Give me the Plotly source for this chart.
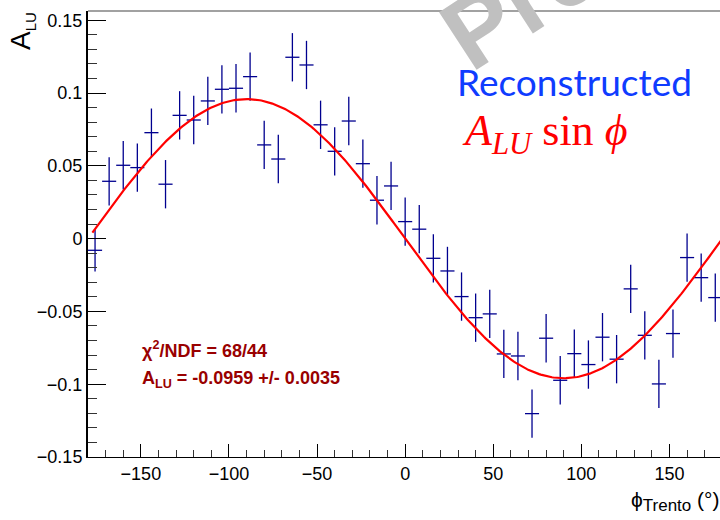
import numpy as np
import plotly.graph_objects as go

# Trento-angle bins (bin centres, degrees) and half bin width
phi = [-176, -168, -160, -152, -144, -136, -128, -120, -112, -104,
       -96, -88, -80, -72, -64, -56, -48, -40, -32, -24,
       -16, -8, 0, 8, 16, 24, 32, 40, 48, 56,
       64, 72, 80, 88, 96, 104, 112, 120, 128, 136,
       144, 152, 160, 168, 176]
phi_halfwidth = [4] * len(phi)

# Measured beam-spin asymmetry per bin
alu = [-0.0080, 0.0394, 0.0504, 0.0488, 0.0728, 0.0374, 0.0847, 0.0815, 0.0946, 0.1026,
       0.1033, 0.1113, 0.0644, 0.0547, 0.1246, 0.1193, 0.0782, 0.0600, 0.0808, 0.0515,
       0.0264, 0.0362, 0.0117, 0.0065, -0.0135, -0.0222, -0.0398, -0.0543, -0.0517, -0.0792,
       -0.0806, -0.1202, -0.0684, -0.0973, -0.0790, -0.0865, -0.0677, -0.0828, -0.0345, -0.0664,
       -0.0998, -0.0652, -0.0130, -0.0268, -0.0405]
alu_err = [0.0145] + [0.0166] * 44

# Fit result: A_LU * sin(phi)
A_LU = -0.0959
A_LU_ERR = 0.0035
CHI2 = 68
NDF = 44
fit_range = (-177.5, 180.0)

x_ticks = [-150, -100, -50, 0, 50, 100, 150]
x_ticktext = ["\u2212150", "\u2212100", "\u221250", "0", "50", "100", "150"]
y_ticks = [-0.15, -0.1, -0.05, 0, 0.05, 0.1, 0.15]
y_ticktext = ["\u22120.15", "\u22120.1", "\u22120.05", "0", "0.05", "0.1", "0.15"]

W, H = 720, 520
ML, MR, MT, MB = 88, 0, 11, 63
PW, PH = W - ML - MR, H - MT - MB


def px(xp):
    return (xp - ML) / PW


def py(yp):
    return (H - MB - yp) / PH


FONT = "Liberation Sans, Arial, Helvetica, sans-serif"
DATA_COL = "#00008f"

fig = go.Figure()

fig.add_trace(go.Scatter(
    x=phi, y=alu, mode="markers",
    marker=dict(size=1, color="rgba(0,0,0,0)"),
    error_x=dict(type="data", array=phi_halfwidth, width=0, thickness=1.3, color=DATA_COL),
    error_y=dict(type="data", array=alu_err, width=0, thickness=1.3, color=DATA_COL),
    showlegend=False, hoverinfo="skip",
))

phi_fit = np.linspace(fit_range[0], fit_range[1], 400)
fig.add_trace(go.Scatter(
    x=phi_fit, y=A_LU * np.sin(np.radians(phi_fit)), mode="lines",
    line=dict(color="#ff0000", width=2.2), showlegend=False, hoverinfo="skip",
))

fig.update_layout(
    width=W, height=H,
    margin=dict(l=ML, r=MR, t=MT, b=MB, pad=0),
    paper_bgcolor="white", plot_bgcolor="white",
    font=dict(family=FONT, color="black", size=18),
    xaxis=dict(
        range=[-180, -180 + PW / 1.762], showgrid=False, zeroline=False,
        showline=True, linecolor="black", linewidth=1.3,
        ticks="inside", ticklen=13, tickwidth=1, tickcolor="black",
        tickvals=x_ticks, ticktext=x_ticktext, tickfont=dict(size=18),
        minor=dict(ticks="inside", ticklen=7, dtick=10, tick0=0, tickcolor="#333", tickwidth=1),
    ),
    yaxis=dict(
        range=[-0.15, -0.15 + PH / 1455.7], showgrid=False, zeroline=False,
        showline=True, linecolor="black", linewidth=2,
        ticks="inside", ticklen=18, tickwidth=1, tickcolor="black",
        tickvals=y_ticks, ticktext=y_ticktext, tickfont=dict(size=18),
        minor=dict(ticks="inside", ticklen=9, dtick=0.01, tick0=0, tickcolor="#333", tickwidth=1),
    ),
)

# top frame line
fig.add_shape(type="line", xref="paper", yref="paper", x0=0, x1=1, y0=1, y1=1,
              line=dict(color="#444", width=1.2))

ann = []
# axis titles
ann.append(dict(text="A<sub><span style='font-size:15px'>LU</span></sub>", textangle=-90,
                x=px(22), y=py(31), xref="paper", yref="paper", xanchor="center", yanchor="middle",
                showarrow=False, font=dict(family=FONT, size=28, color="black")))
ann.append(dict(text="\u03d5<sub><span style='font-size:17px'>Trento</span></sub> (\u00b0)",
                x=px(722), y=py(501), xref="paper", yref="paper", xanchor="right", yanchor="middle",
                showarrow=False, font=dict(family=FONT, size=21, color="black")))
# fit summary
ann.append(dict(text=f"<b>\u03c7<sup>2</sup>/NDF = {CHI2}/{NDF}</b>",
                x=px(140), y=py(349), xref="paper", yref="paper", xanchor="left", yanchor="middle",
                showarrow=False, font=dict(family=FONT, size=18, color="#990000")))
ann.append(dict(text=f"<b>A<sub>LU</sub> = {A_LU:.4f} +/- {A_LU_ERR:.4f}</b>",
                x=px(140), y=py(379), xref="paper", yref="paper", xanchor="left", yanchor="middle",
                showarrow=False, font=dict(family=FONT, size=18, color="#990000")))
# legend-style labels
ann.append(dict(text="Reconstructed",
                x=px(455), y=py(81), xref="paper", yref="paper", xanchor="left", yanchor="middle",
                showarrow=False, font=dict(family="Lato, sans-serif", size=37, color="#0f3cff")))
ann.append(dict(text="<i>A</i><sub><i>LU</i></sub> sin <i>\u03d5</i>",
                x=px(460), y=py(133), xref="paper", yref="paper", xanchor="left", yanchor="middle",
                showarrow=False, font=dict(family="Liberation Serif, Times New Roman, serif", size=44, color="#ff0000")))
# watermark
ann.append(dict(text="<b>Preliminary</b>", textangle=-33,
                x=px(680), y=py(-104), xref="paper", yref="paper", xanchor="center", yanchor="middle",
                showarrow=False, font=dict(family=FONT, size=100, color="#c0c0c0")))

fig.update_layout(annotations=ann)
fig.write_html("out.html")
